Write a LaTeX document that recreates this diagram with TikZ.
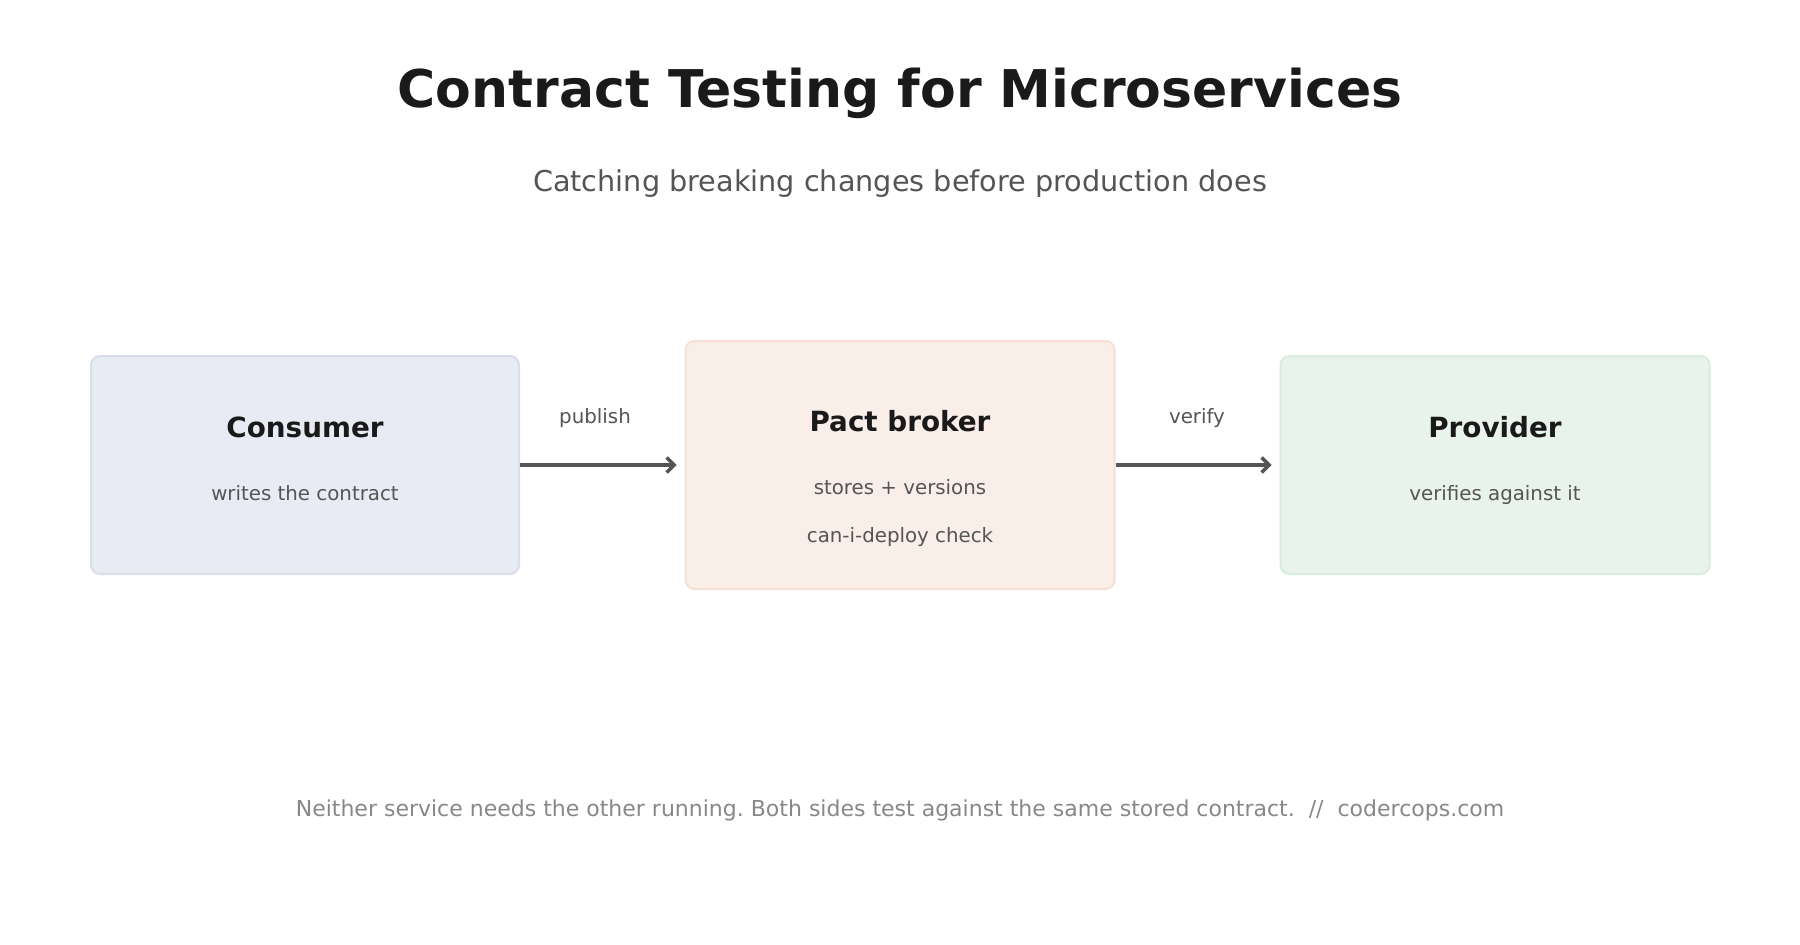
\documentclass[tikz,border=0pt]{standalone}
\usepackage{fontspec}
\setmainfont{DejaVu Sans}
\usetikzlibrary{arrows.meta}
\frenchspacing
\definecolor{titlec}{HTML}{1A1A1A}
\definecolor{subc}{HTML}{555555}
\definecolor{footc}{HTML}{888888}
\definecolor{arrowc}{HTML}{555555}
\definecolor{consfill}{HTML}{E8EBF4}
\definecolor{consdraw}{HTML}{D9DEEE}
\definecolor{brokfill}{HTML}{F9EEE8}
\definecolor{brokdraw}{HTML}{F6E0D6}
\definecolor{provfill}{HTML}{E8F3EC}
\definecolor{provdraw}{HTML}{D8ECE0}
\tikzset{
  box/.style={rectangle, rounded corners=9pt, line width=2pt, inner sep=0pt},
  boxtitle/.style={anchor=base, text=titlec, font=\fontsize{27.8}{32}\selectfont\bfseries},
  boxtext/.style={anchor=base, text=subc, font=\fontsize{19.8}{24}\selectfont},
  lbl/.style={anchor=base, text=subc, font=\fontsize{19.8}{24}\selectfont},
  flow/.style={draw=arrowc, line width=3.5pt, -{Straight Barb[length=7.5pt,width=15pt,line width=3.5pt]}, shorten >=8pt}
}
\begin{document}
\begin{tikzpicture}[x=1pt,y=-1pt]
\useasboundingbox (0,0) rectangle (1800,945);
\fill[white] (0,0) rectangle (1800,945);
\node[anchor=base, text=titlec, font=\fontsize{52}{62}\selectfont\bfseries] (title) at (900,107) {Contract Testing for Microservices};
\node[anchor=base, text=subc, font=\fontsize{28.7}{34}\selectfont] (subtitle) at (900,191) {Catching breaking changes before production does};

\node[box, fill=consfill, draw=consdraw, minimum width=428pt, minimum height=218pt] (consumer) at (305,465) {};
\node[box, fill=brokfill, draw=brokdraw, minimum width=429pt, minimum height=248pt] (broker) at (900,465) {};
\node[box, fill=provfill, draw=provdraw, minimum width=429pt, minimum height=218pt] (provider) at (1495,465) {};

\node[boxtitle] (constitle) at (305,437) {Consumer};
\node[boxtext] (constext) at (305,500) {writes the contract};
\node[boxtitle] (broktitle) at (900,431) {Pact broker};
\node[boxtext] (broktext1) at (900,494) {stores + versions};
\node[boxtext] (broktext2) at (900,542) {can-i-deploy check};
\node[boxtitle] (provtitle) at (1495,437) {Provider};
\node[boxtext] (provtext) at (1495,500) {verifies against it};

\draw[flow] (consumer.east) -- (broker.west);
\draw[flow] (broker.east) -- (provider.west);
\node[lbl] (publish) at (595,423) {publish};
\node[lbl] (verify) at (1197,423) {verify};

\node[anchor=base, text=footc, font=\fontsize{22}{26}\selectfont] (footer) at (900,816) {Neither service needs the other running. Both sides test against the same stored contract.~~//~~codercops.com};
\end{tikzpicture}
\end{document}
